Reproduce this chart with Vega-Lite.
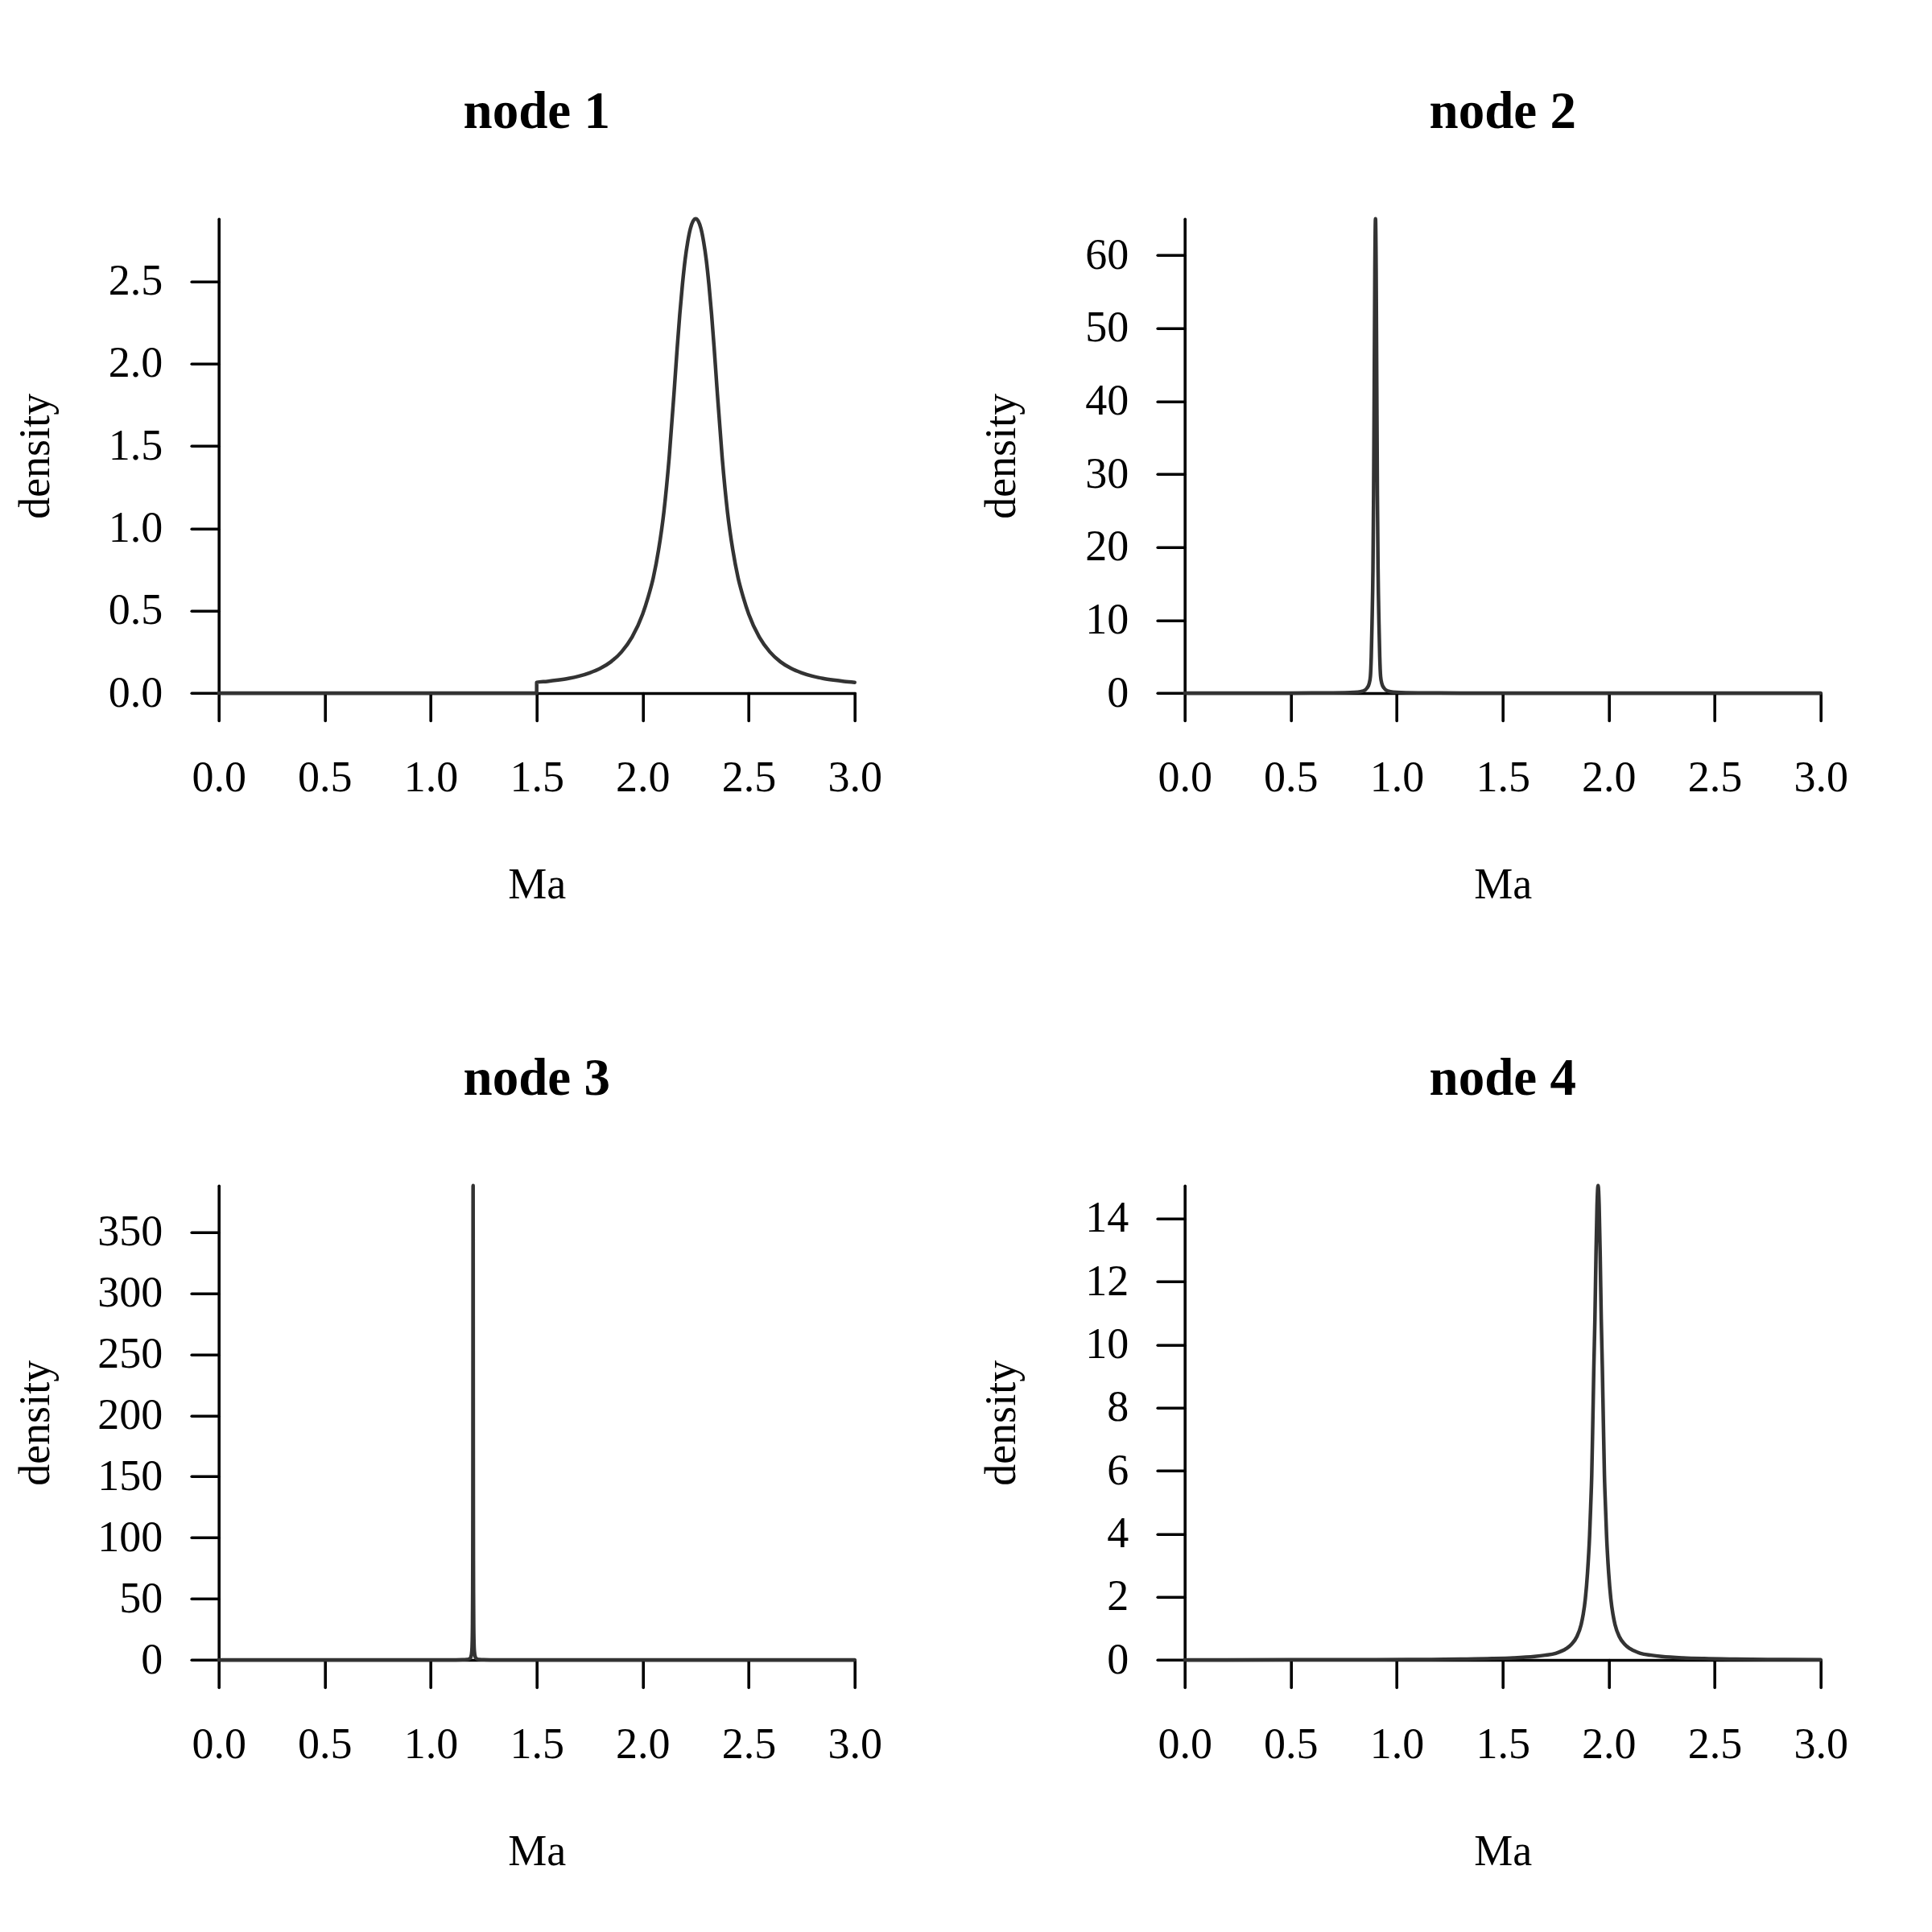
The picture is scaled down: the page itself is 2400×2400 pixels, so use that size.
{
  "$schema": "https://vega.github.io/schema/vega-lite/v6.json",
  "autosize": {"type": "none"},
  "padding": {"left": 271.7, "top": 271.7, "right": 2128.3, "bottom": 2128.3},
  "background": "white",
  "bounds": "flush",
  "columns": 2,
  "spacing": {"row": 611, "column": 410},
  "datasets": {
    "n1": [{"x":0,"y":0},{"x":1.4999,"y":0},{"x":1.5,"y":0.065},{"x":1.55,"y":0.071},{"x":1.6,"y":0.079},{"x":1.65,"y":0.089},{"x":1.7,"y":0.103},{"x":1.75,"y":0.123},{"x":1.8,"y":0.15},{"x":1.85,"y":0.19},{"x":1.9,"y":0.25},{"x":1.95,"y":0.34},{"x":2.0,"y":0.48},{"x":2.025,"y":0.58},{"x":2.05,"y":0.70},{"x":2.075,"y":0.87},{"x":2.1,"y":1.10},{"x":2.125,"y":1.43},{"x":2.15,"y":1.86},{"x":2.1625,"y":2.09},{"x":2.175,"y":2.30},{"x":2.1875,"y":2.48},{"x":2.2,"y":2.63},{"x":2.2125,"y":2.74},{"x":2.225,"y":2.82},{"x":2.2375,"y":2.865},{"x":2.25,"y":2.88},{"x":2.2625,"y":2.865},{"x":2.275,"y":2.82},{"x":2.2875,"y":2.74},{"x":2.3,"y":2.63},{"x":2.3125,"y":2.48},{"x":2.325,"y":2.30},{"x":2.3375,"y":2.09},{"x":2.35,"y":1.86},{"x":2.375,"y":1.43},{"x":2.4,"y":1.10},{"x":2.425,"y":0.87},{"x":2.45,"y":0.70},{"x":2.475,"y":0.58},{"x":2.5,"y":0.48},{"x":2.55,"y":0.34},{"x":2.6,"y":0.25},{"x":2.65,"y":0.19},{"x":2.7,"y":0.15},{"x":2.75,"y":0.123},{"x":2.8,"y":0.103},{"x":2.85,"y":0.089},{"x":2.9,"y":0.079},{"x":2.95,"y":0.071},{"x":3.0,"y":0.065}],
    "n2": [{"x":0,"y":0.005},{"x":0.4,"y":0.008},{"x":0.6,"y":0.015},{"x":0.7,"y":0.03},{"x":0.8,"y":0.1},{"x":0.83,"y":0.2},{"x":0.85,"y":0.4},{"x":0.86,"y":0.7},{"x":0.87,"y":1.3},{"x":0.876,"y":2.3},{"x":0.88,"y":5},{"x":0.8836,"y":9.5},{"x":0.888,"y":17},{"x":0.891,"y":27},{"x":0.894,"y":42},{"x":0.897,"y":58},{"x":0.9,"y":65},{"x":0.903,"y":58},{"x":0.906,"y":42},{"x":0.909,"y":27},{"x":0.912,"y":17},{"x":0.9164,"y":9.5},{"x":0.92,"y":5},{"x":0.924,"y":2.3},{"x":0.93,"y":1.3},{"x":0.94,"y":0.7},{"x":0.95,"y":0.4},{"x":0.97,"y":0.2},{"x":1.0,"y":0.1},{"x":1.1,"y":0.03},{"x":1.2,"y":0.015},{"x":1.4,"y":0.008},{"x":2.0,"y":0.004},{"x":3.0,"y":0.002}],
    "n3": [{"x":0,"y":0.0005},{"x":0.6,"y":0.001},{"x":0.9,"y":0.003},{"x":1.1,"y":0.026},{"x":1.15,"y":0.104},{"x":1.17,"y":0.29},{"x":1.18,"y":0.65},{"x":1.185,"y":1.16},{"x":1.19,"y":2.6},{"x":1.194,"y":7.1},{"x":1.196,"y":15.6},{"x":1.197,"y":27},{"x":1.198,"y":55.8},{"x":1.1984,"y":81},{"x":1.1988,"y":124},{"x":1.1991,"y":176},{"x":1.1994,"y":253},{"x":1.1997,"y":342},{"x":1.2,"y":388},{"x":1.2003,"y":342},{"x":1.2006,"y":253},{"x":1.2009,"y":176},{"x":1.2012,"y":124},{"x":1.2016,"y":81},{"x":1.202,"y":55.8},{"x":1.203,"y":27},{"x":1.204,"y":15.6},{"x":1.206,"y":7.1},{"x":1.21,"y":2.6},{"x":1.215,"y":1.16},{"x":1.22,"y":0.65},{"x":1.23,"y":0.29},{"x":1.25,"y":0.104},{"x":1.3,"y":0.026},{"x":1.5,"y":0.003},{"x":2.0,"y":0.001},{"x":3.0,"y":0.0005}],
    "n4": [{"x":0,"y":0.002},{"x":0.5,"y":0.004},{"x":0.9,"y":0.008},{"x":1.15,"y":0.014},{"x":1.3,"y":0.025},{"x":1.45,"y":0.042},{"x":1.55,"y":0.065},{"x":1.65,"y":0.11},{"x":1.7,"y":0.15},{"x":1.75,"y":0.21},{"x":1.8,"y":0.36},{"x":1.825,"y":0.5},{"x":1.85,"y":0.74},{"x":1.87,"y":1.12},{"x":1.88,"y":1.45},{"x":1.89,"y":1.95},{"x":1.9,"y":2.75},{"x":1.91,"y":3.95},{"x":1.915,"y":4.85},{"x":1.92,"y":5.85},{"x":1.925,"y":7.5},{"x":1.93,"y":9.3},{"x":1.935,"y":10.8},{"x":1.94,"y":12.8},{"x":1.945,"y":14.4},{"x":1.95,"y":15.05},{"x":1.955,"y":14.4},{"x":1.96,"y":12.8},{"x":1.965,"y":10.8},{"x":1.97,"y":9.3},{"x":1.975,"y":7.5},{"x":1.98,"y":5.85},{"x":1.985,"y":4.85},{"x":1.99,"y":3.95},{"x":2.0,"y":2.75},{"x":2.01,"y":1.95},{"x":2.02,"y":1.45},{"x":2.03,"y":1.12},{"x":2.05,"y":0.74},{"x":2.075,"y":0.5},{"x":2.1,"y":0.36},{"x":2.15,"y":0.21},{"x":2.2,"y":0.15},{"x":2.25,"y":0.11},{"x":2.35,"y":0.065},{"x":2.45,"y":0.042},{"x":2.6,"y":0.025},{"x":2.75,"y":0.014},{"x":3.0,"y":0.008}]
  },
  "concat": [
    {
      "width": 790, "height": 589.3,
      "title": {"text": "node 1"},
      "data": {"name": "n1"},
      "mark": {"type": "line", "color": "#333333", "strokeWidth": 4.5, "strokeCap": "round", "strokeJoin": "round", "interpolate": "monotone", "clip": false},
      "encoding": {
        "x": {"field": "x", "type": "quantitative", "scale": {"domain": [0, 3], "nice": false, "zero": false},
              "axis": {"title": "Ma", "values": [0, 0.5, 1, 1.5, 2, 2.5, 3], "format": ".1f", "titleX": 395, "titleY": 254}},
        "y": {"field": "y", "type": "quantitative", "scale": {"domain": [0, 2.88], "nice": false, "zero": true},
              "axis": {"title": "density", "values": [0, 0.5, 1, 1.5, 2, 2.5], "format": ".1f", "titleX": -211, "titleY": 294.65}}
      }
    },
    {
      "width": 790, "height": 589.3,
      "title": {"text": "node 2"},
      "data": {"name": "n2"},
      "mark": {"type": "line", "color": "#333333", "strokeWidth": 4.5, "strokeCap": "round", "strokeJoin": "round", "interpolate": "monotone", "clip": false},
      "encoding": {
        "x": {"field": "x", "type": "quantitative", "scale": {"domain": [0, 3], "nice": false, "zero": false},
              "axis": {"title": "Ma", "values": [0, 0.5, 1, 1.5, 2, 2.5, 3], "format": ".1f", "titleX": 395, "titleY": 254}},
        "y": {"field": "y", "type": "quantitative", "scale": {"domain": [0, 65], "nice": false, "zero": true},
              "axis": {"title": "density", "values": [0, 10, 20, 30, 40, 50, 60], "format": "d", "titleX": -211, "titleY": 294.65}}
      }
    },
    {
      "width": 790, "height": 589.3,
      "title": {"text": "node 3"},
      "data": {"name": "n3"},
      "mark": {"type": "line", "color": "#333333", "strokeWidth": 4.5, "strokeCap": "round", "strokeJoin": "round", "interpolate": "monotone", "clip": false},
      "encoding": {
        "x": {"field": "x", "type": "quantitative", "scale": {"domain": [0, 3], "nice": false, "zero": false},
              "axis": {"title": "Ma", "values": [0, 0.5, 1, 1.5, 2, 2.5, 3], "format": ".1f", "titleX": 395, "titleY": 254}},
        "y": {"field": "y", "type": "quantitative", "scale": {"domain": [0, 388], "nice": false, "zero": true},
              "axis": {"title": "density", "values": [0, 50, 100, 150, 200, 250, 300, 350], "format": "d", "titleX": -211, "titleY": 294.65}}
      }
    },
    {
      "width": 790, "height": 589.3,
      "title": {"text": "node 4"},
      "data": {"name": "n4"},
      "mark": {"type": "line", "color": "#333333", "strokeWidth": 4.5, "strokeCap": "round", "strokeJoin": "round", "interpolate": "monotone", "clip": false},
      "encoding": {
        "x": {"field": "x", "type": "quantitative", "scale": {"domain": [0, 3], "nice": false, "zero": false},
              "axis": {"title": "Ma", "values": [0, 0.5, 1, 1.5, 2, 2.5, 3], "format": ".1f", "titleX": 395, "titleY": 254}},
        "y": {"field": "y", "type": "quantitative", "scale": {"domain": [0, 15.05], "nice": false, "zero": true},
              "axis": {"title": "density", "values": [0, 2, 4, 6, 8, 10, 12, 14], "format": "d", "titleX": -211, "titleY": 294.65}}
      }
    }
  ],
  "config": {
    "view": {"stroke": null},
    "font": "Liberation Serif",
    "axis": {
      "domainColor": "black", "domainWidth": 3.6, "domainCap": "round",
      "tickColor": "black", "tickWidth": 3.6, "tickCap": "round", "tickSize": 34,
      "labelFont": "Liberation Serif", "labelFontSize": 54, "labelColor": "black",
      "labelFlush": false, "labelOverlap": false, "labelBound": false,
      "titleFont": "Liberation Serif", "titleFontSize": 54, "titleFontWeight": "normal", "titleColor": "black",
      "grid": false
    },
    "axisX": {"labelBaseline": "alphabetic", "labelPadding": 87, "labelAngle": 0, "titleBaseline": "alphabetic", "titleAlign": "center"},
    "axisY": {"labelBaseline": "middle", "labelPadding": 36, "titleAngle": -90, "titleBaseline": "alphabetic", "titleAlign": "center"},
    "title": {"font": "Liberation Serif", "fontSize": 65, "fontWeight": "bold", "color": "black", "anchor": "middle", "baseline": "alphabetic", "offset": 96, "frame": "group"}
  }
}
